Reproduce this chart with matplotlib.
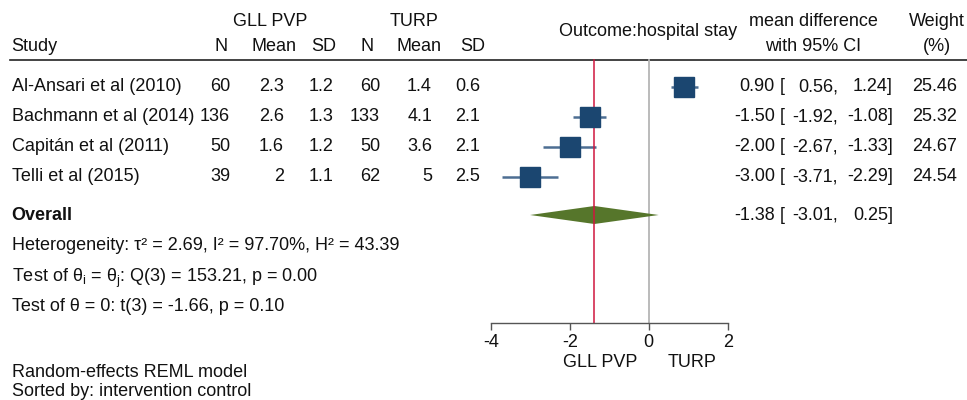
import matplotlib
matplotlib.use("Agg")
import matplotlib.pyplot as plt

plt.rcParams["font.family"] = ["Liberation Sans", "DejaVu Sans"]
plt.rcParams["axes.unicode_minus"] = False

# Study-level data
studies = ["Al-Ansari et al (2010)", "Bachmann et al (2014)",
           "Capitán et al (2011)", "Telli et al (2015)"]
n_pvp = ["60", "136", "50", "39"]
mean_pvp = ["2.3", "2.6", "1.6", "2"]
sd_pvp = ["1.2", "1.3", "1.2", "1.1"]
n_turp = ["60", "133", "50", "62"]
mean_turp = ["1.4", "4.1", "3.6", "5"]
sd_turp = ["0.6", "2.1", "2.1", "2.5"]

md = [0.90, -1.50, -2.00, -3.00]
ci_low = [0.56, -1.92, -2.67, -3.71]
ci_high = [1.24, -1.08, -1.33, -2.29]
weights = [25.46, 25.32, 24.67, 24.54]

overall_md = -1.38
overall_low = -3.01
overall_high = 0.25

xticks = [-4, -2, 0, 2]

W, H = 967, 400
fig = plt.figure(figsize=(W / 100, H / 100), dpi=100)

# Text layer in pixel units
tx = fig.add_axes([0, 0, 1, 1])
tx.set_xlim(0, W)
tx.set_ylim(H, 0)
tx.axis("off")

fs = 13
txt_kw = dict(fontsize=fs, color="#111111", va="center")

# Forest panel: x in mean-difference units, y in row units
row_h = 30.0
row0_y = 86.7
ax_top, ax_bot = 60.0, 322.7
ax_left, ax_right = 491.0, 727.7
ax = fig.add_axes([ax_left / W, 1 - ax_bot / H,
                   (ax_right - ax_left) / W, (ax_bot - ax_top) / H])
ax.set_xlim(xticks[0], xticks[-1])
ax.set_ylim((ax_bot - row0_y) / row_h, (ax_top - row0_y) / row_h)
ax.patch.set_alpha(0)
for s in ["top", "left", "right"]:
    ax.spines[s].set_visible(False)
ax.spines["bottom"].set_color("#555555")
ax.spines["bottom"].set_linewidth(1.0)
ax.set_yticks([])
ax.set_xticks(xticks)
ax.set_xticklabels([str(t) for t in xticks], fontsize=fs, color="#111111")
ax.tick_params(axis="x", direction="out", length=5, width=1.0,
               color="#555555", pad=3)

ylo, yhi = ax.get_ylim()
# Reference lines: no effect and overall effect
ax.plot([0, 0], [ylo, yhi], color="#b5b5b5", lw=1.3, zorder=1, clip_on=False)
ax.plot([overall_md, overall_md], [ylo, yhi], color="#d0163f", lw=1.1,
        zorder=2.5, clip_on=False)

# Study estimates with confidence intervals
for i in range(len(studies)):
    ax.plot([ci_low[i], ci_high[i]], [i, i], color="#4d6e93", lw=1.8,
            solid_capstyle="butt", zorder=2, clip_on=False)
    ms = 14.6 * (weights[i] / max(weights)) ** 0.5
    ax.plot(md[i], i, marker="s", ms=ms, color="#1b4670", mec="#1b4670",
            zorder=3, clip_on=False)

# Overall diamond
oy = (215.0 - row0_y) / row_h
dh = 9.0 / row_h
ax.fill([overall_low, overall_md, overall_high, overall_md],
        [oy, oy - dh, oy, oy + dh], color="#56762b", lw=0, zorder=2.2,
        clip_on=False)

# Header
tx.plot([10, W], [60, 60], color="#222222", lw=1.2)
tx.text(270, 21.7, "GLL PVP", ha="center", **txt_kw)
tx.text(414.5, 21.7, "TURP", ha="center", **txt_kw)
tx.text(11.5, 46.7, "Study", ha="left", **txt_kw)
for xc, lab in zip([221, 274, 323.5, 367, 419, 473],
                   ["N", "Mean", "SD", "N", "Mean", "SD"]):
    tx.text(xc, 46.7, lab, ha="center", **txt_kw)
tx.text(648, 31.7, "Outcome:hospital stay", ha="center", **txt_kw)
tx.text(813, 21.7, "mean difference", ha="center", **txt_kw)
tx.text(813, 46.7, "with 95% CI", ha="center", **txt_kw)
tx.text(936.5, 21.7, "Weight", ha="center", **txt_kw)
tx.text(936.5, 46.7, "(%)", ha="center", **txt_kw)

# Study rows
cols = [n_pvp, mean_pvp, sd_pvp, n_turp, mean_turp, sd_turp]
col_right = [230, 284, 333, 380, 432, 480]


def ci_text(y, est, lo, hi):
    tx.text(775, y, f"{est:.2f}", ha="right", **txt_kw)
    tx.text(780, y, "[", ha="left", **txt_kw)
    tx.text(838, y, f"{lo:.2f},", ha="right", **txt_kw)
    tx.text(893, y, f"{hi:.2f}]", ha="right", **txt_kw)


for i, name in enumerate(studies):
    y = row0_y + i * row_h
    tx.text(11.5, y, name, ha="left", **txt_kw)
    for col, xr in zip(cols, col_right):
        tx.text(xr, y, col[i], ha="right", **txt_kw)
    ci_text(y, md[i], ci_low[i], ci_high[i])
    tx.text(957, y, f"{weights[i]:.2f}", ha="right", **txt_kw)

# Overall and heterogeneity rows
tx.text(11.5, 215, "Overall", ha="left", fontweight="bold", fontsize=fs,
        color="#111111", va="center")
ci_text(215, overall_md, overall_low, overall_high)
tx.text(11.5, 245, "Heterogeneity: τ² = 2.69, I² = 97.70%, H² = 43.39",
        ha="left", **txt_kw)
tx.text(11.5, 281.5, r"Test of θ$_\mathregular{i}$ = θ$_\mathregular{j}$: Q(3) = 153.21, p = 0.00",
        ha="left", fontsize=fs, color="#111111", va="baseline")
tx.text(11.5, 306.7, "Test of θ = 0: t(3) = -1.66, p = 0.10", ha="left", **txt_kw)

# Favours labels under the axis
tx.text(600, 362.5, "GLL PVP", ha="center", **txt_kw)
tx.text(691.7, 362.5, "TURP", ha="center", **txt_kw)

# Footnotes
tx.text(11.5, 372.7, "Random-effects REML model", ha="left", **txt_kw)
tx.text(11.5, 391.7, "Sorted by: intervention control", ha="left", **txt_kw)

fig.savefig("out.png", dpi=100)
